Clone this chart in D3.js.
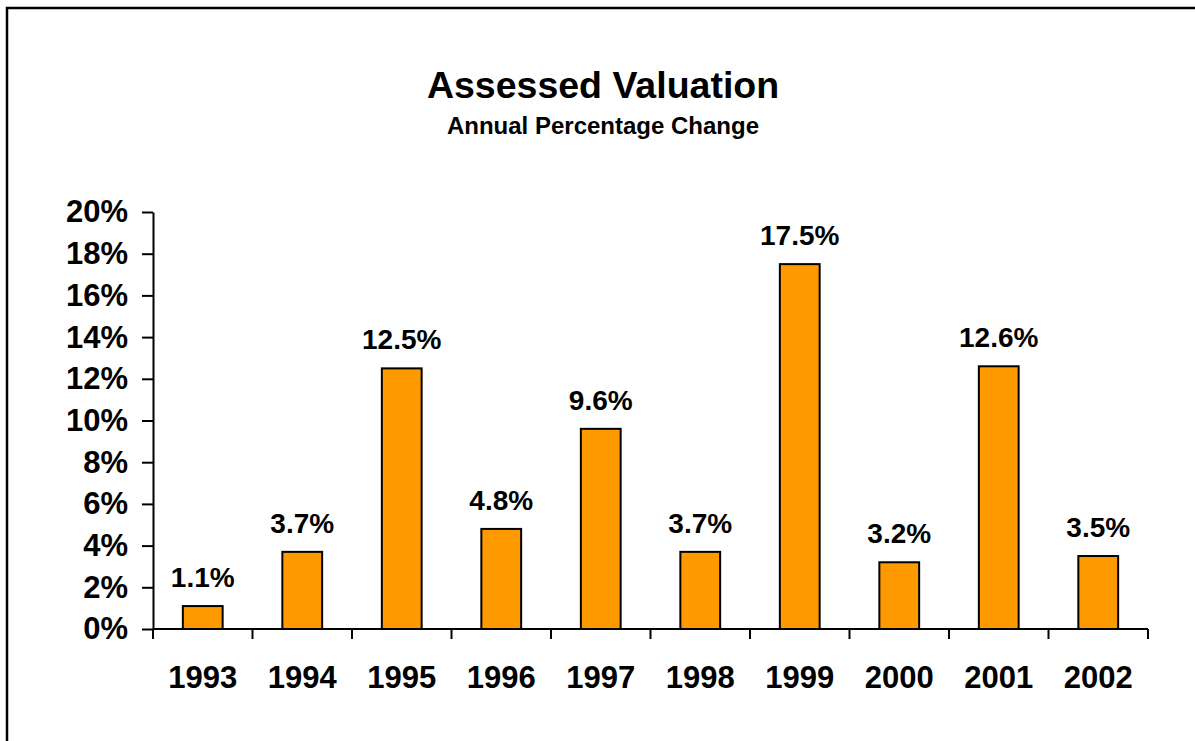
<!DOCTYPE html>
<html>
<head>
<meta charset="utf-8">
<script src="https://cdn.jsdelivr.net/npm/d3@7"></script>
<style>
  body { margin: 0; background: #fff; }
  svg { display: block; font-family: "Liberation Sans", Arial, sans-serif; }
</style>
</head>
<body>
<div id="chart"></div>
<script>
let width = 1195;
let height = 741;

// data
var years = ["1993", "1994", "1995", "1996", "1997", "1998", "1999", "2000", "2001", "2002"];
var changes = [1.1, 3.7, 12.5, 4.8, 9.6, 3.7, 17.5, 3.2, 12.6, 3.5];
var yTicks = [0, 2, 4, 6, 8, 10, 12, 14, 16, 18, 20];

let svg = d3.select('#chart')
  .append('svg')
  .attr('width', width)
  .attr('height', height);

// outer frame (runs off the right and bottom edges)
svg.append('rect')
  .attr('x', 7).attr('y', 8)
  .attr('width', 1400).attr('height', 1000)
  .attr('fill', 'none')
  .attr('stroke', '#000')
  .attr('stroke-width', 2.5);

svg.append('text')
  .attr('x', 603).attr('y', 98)
  .attr('text-anchor', 'middle')
  .attr('font-size', 37.5)
  .attr('font-weight', 700)
  .text('Assessed Valuation');

svg.append('text')
  .attr('x', 603).attr('y', 134)
  .attr('text-anchor', 'middle')
  .attr('font-size', 24)
  .attr('font-weight', 700)
  .text('Annual Percentage Change');

let x = d3.scaleBand()
  .domain(years)
  .range([153, 1148])
  .paddingInner(0.6)
  .paddingOuter(0.3);

let y = d3.scaleLinear()
  .domain([0, 20])
  .range([629, 212]);

// y axis
let yAxis = svg.append('g')
  .attr('transform', 'translate(153,0)')
  .call(d3.axisLeft(y)
    .tickValues(yTicks)
    .tickSize(11)
    .tickSizeOuter(0)
    .tickPadding(14)
    .tickFormat(d => d + '%'));

yAxis.select('.domain').attr('stroke-width', 2);
yAxis.selectAll('.tick line').attr('stroke-width', 2);
yAxis.selectAll('.tick text')
  .attr('font-size', 31)
  .attr('font-weight', 700)
  .attr('font-family', '"Liberation Sans", Arial, sans-serif')
  .attr('fill', '#000');

// bars
svg.selectAll('rect.bar')
  .data(changes)
  .enter()
  .append('rect')
  .attr('class', 'bar')
  .attr('x', (d, i) => x(years[i]))
  .attr('y', d => y(d))
  .attr('width', x.bandwidth())
  .attr('height', d => y(0) - y(d))
  .attr('fill', '#FF9900')
  .attr('stroke', '#000')
  .attr('stroke-width', 2);

// value labels
svg.selectAll('text.val')
  .data(changes)
  .enter()
  .append('text')
  .attr('class', 'val')
  .attr('x', (d, i) => x(years[i]) + x.bandwidth() / 2)
  .attr('y', d => y(d) - 19)
  .attr('text-anchor', 'middle')
  .attr('font-size', 28)
  .attr('font-weight', 700)
  .text(d => d.toFixed(1) + '%');

// x axis: baseline, ticks between categories, labels
svg.append('line')
  .attr('x1', 153).attr('x2', 1148)
  .attr('y1', y(0)).attr('y2', y(0))
  .attr('stroke', '#000')
  .attr('stroke-width', 2);

let bounds = d3.range(years.length + 1).map(i => x.range()[0] + i * x.step());
svg.selectAll('line.xtick')
  .data(bounds)
  .enter()
  .append('line')
  .attr('class', 'xtick')
  .attr('x1', d => d).attr('x2', d => d)
  .attr('y1', y(0)).attr('y2', y(0) + 10)
  .attr('stroke', '#000')
  .attr('stroke-width', 2);

svg.selectAll('text.year')
  .data(years)
  .enter()
  .append('text')
  .attr('class', 'year')
  .attr('x', d => x(d) + x.bandwidth() / 2)
  .attr('y', 688)
  .attr('text-anchor', 'middle')
  .attr('font-size', 31)
  .attr('font-weight', 700)
  .text(d => d);
</script>
</body>
</html>
